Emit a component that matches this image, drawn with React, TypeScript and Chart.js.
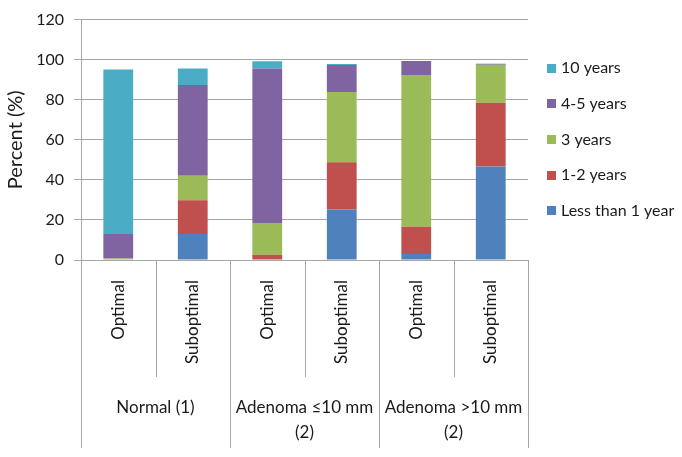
import React, { useEffect, useRef } from "react";
import { Chart, registerables } from "chart.js";

Chart.register(...registerables);

const categories = ["Optimal", "Suboptimal", "Optimal", "Suboptimal", "Optimal", "Suboptimal"];
const groupLabels = [["Normal (1)"], ["Adenoma ≤10 mm", "(2)"], ["Adenoma >10 mm", "(2)"]];
const seriesNames = ["Less than 1 year", "1-2 years", "3 years", "4-5 years", "10 years"];
const lessThan1Year = [0, 13, 0, 25.2, 3, 46.7];
const years1to2 = [0, 16.8, 2.6, 23.6, 13.6, 31.8];
const years3 = [0.8, 12.2, 15.9, 35.1, 75.7, 19];
const years4to5 = [12.2, 45.3, 77.1, 13.5, 7, 0.5];
const years10 = [82.1, 8.3, 3.6, 0.4, 0, 0];
const yMin = 0;
const yMax = 120;
const yStep = 20;

const seriesColors = ["#4F81BD", "#C0504D", "#9BBB59", "#8064A2", "#4BACC6"];
const GRID = "#a6a6a6";
const TEXT = "#1a1a1a";
const FONT = "Lato, 'Open Sans', sans-serif";

const groupPlugin = {
  id: "groupAxis",
  afterDraw(chart: any) {
    const { ctx, chartArea } = chart;
    const x = chart.scales.x;
    const n = categories.length;
    const half = (x.getPixelForValue(1) - x.getPixelForValue(0)) / 2;
    ctx.save();
    ctx.strokeStyle = GRID;
    ctx.lineWidth = 1;
    for (let i = 0; i <= n; i++) {
      const raw = i < n ? x.getPixelForValue(i) - half : x.getPixelForValue(n - 1) + half;
      const px = Math.round(raw) + 0.5;
      const isGroup = i % 2 === 0;
      ctx.beginPath();
      ctx.moveTo(px, chartArea.bottom);
      ctx.lineTo(px, chartArea.bottom + (isGroup ? 188 : 117));
      ctx.stroke();
    }
    ctx.fillStyle = TEXT;
    ctx.font = `17px ${FONT}`;
    ctx.textAlign = "center";
    ctx.textBaseline = "middle";
    groupLabels.forEach((lines, g) => {
      const cx = (x.getPixelForValue(2 * g) + x.getPixelForValue(2 * g + 1)) / 2;
      lines.forEach((t, j) => ctx.fillText(t, cx, chartArea.bottom + 148 + j * 25));
    });
    ctx.restore();
  },
};

const legendPlugin = {
  id: "sideLegend",
  afterDraw(chart: any) {
    const { ctx, chartArea } = chart;
    const ds = chart.data.datasets;
    ctx.save();
    ctx.font = `16px ${FONT}`;
    ctx.textAlign = "left";
    ctx.textBaseline = "middle";
    const left = chartArea.right + 19;
    for (let k = 0; k < ds.length; k++) {
      const d = ds[ds.length - 1 - k];
      const cy = 68 + k * 35.7;
      ctx.fillStyle = d.backgroundColor;
      ctx.fillRect(left, Math.round(cy - 4.5), 9, 9);
      ctx.fillStyle = TEXT;
      ctx.fillText(d.label, left + 14, cy);
    }
    ctx.restore();
  },
};

export default function App() {
  const ref = useRef<HTMLCanvasElement | null>(null);
  useEffect(() => {
    if (!ref.current) return;
    const values = [lessThan1Year, years1to2, years3, years4to5, years10];
    const chart = new Chart(ref.current, {
      type: "bar",
      data: {
        labels: categories,
        datasets: seriesNames.map((name, i) => ({
          label: name,
          data: values[i],
          backgroundColor: seriesColors[i],
          borderWidth: 0,
          barPercentage: 0.4,
          categoryPercentage: 1,
        })),
      },
      options: {
        animation: false,
        responsive: false,
        maintainAspectRatio: false,
        layout: { padding: { top: 14, right: 154, left: 0, bottom: 0 } },
        plugins: { legend: { display: false }, tooltip: { enabled: false } },
        scales: {
          x: {
            stacked: true,
            grid: { display: false },
            border: { display: false },
            ticks: {
              minRotation: 90,
              maxRotation: 90,
              autoSkip: false,
              padding: 12,
              color: TEXT,
              font: { family: FONT, size: 17 },
            },
            afterFit: (s: any) => {
              s.height = 197;
            },
          },
          y: {
            stacked: true,
            min: yMin,
            max: yMax,
            ticks: {
              stepSize: yStep,
              padding: 10,
              color: TEXT,
              font: { family: FONT, size: 16 },
            },
            grid: { color: GRID, tickLength: 7, drawTicks: true },
            border: { display: true, color: GRID },
            title: {
              display: true,
              text: "Percent (%)",
              color: TEXT,
              font: { family: FONT, size: 20 },
              padding: { top: 4, bottom: 0 },
            },
            afterFit: (s: any) => {
              s.width = 81;
            },
          },
        },
      },
      plugins: [groupPlugin, legendPlugin],
    });
    return () => chart.destroy();
  }, []);
  return (
    <div style={{ position: "fixed", left: 0, top: 0, width: 682, height: 457, background: "#fff" }}>
      <canvas ref={ref} width={682} height={457} style={{ width: 682, height: 457 }} />
    </div>
  );
}
